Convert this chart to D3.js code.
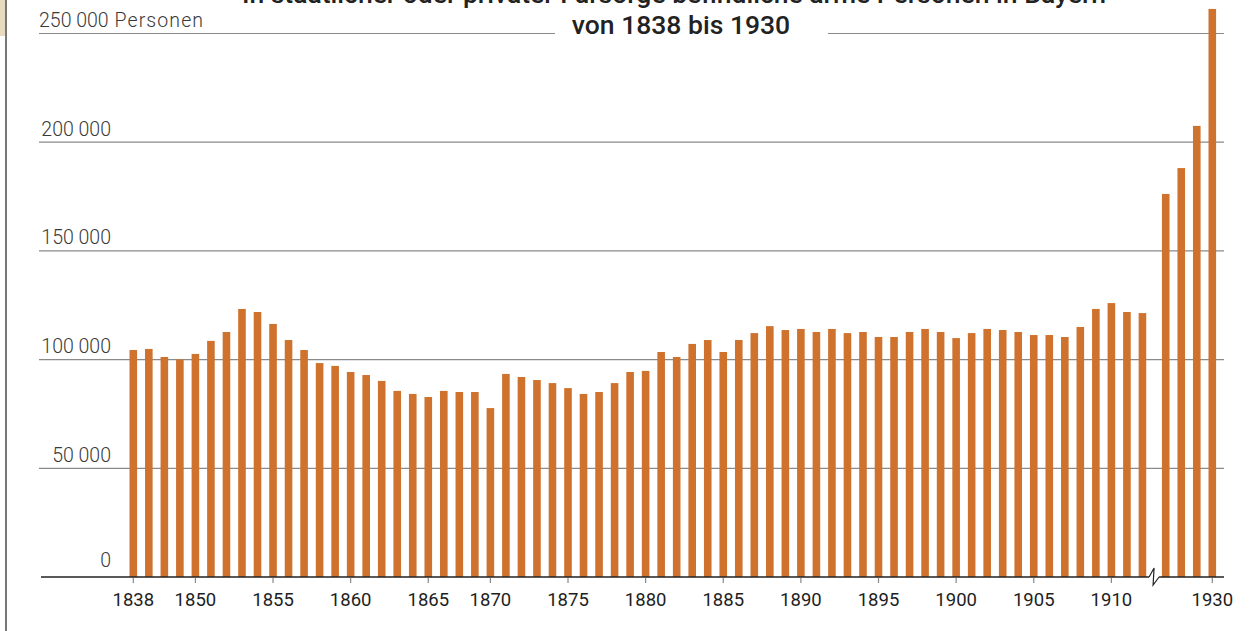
<!DOCTYPE html>
<html>
<head>
<meta charset="utf-8">
<script src="https://d3js.org/d3.v7.min.js"></script>
<style>
    body { margin: 0; background: #fff; }
    svg { display: block; }
    .ylab { font-family: Roboto, 'Liberation Sans', sans-serif; font-weight: 300; font-size: 19.5px; fill: #3a3a3a; }
    .xlab { font-family: Roboto, 'Liberation Sans', sans-serif; font-weight: 400; font-size: 18.5px; fill: #1e1e1e; }
    .title { font-family: Roboto, 'Liberation Sans', sans-serif; font-weight: 500; font-size: 26.5px; fill: #222; }
</style>
</head>
<body>
<div id="chart"></div>
<script>

// years shown as bars (the three after 1838 are not labelled in the source)
var years = ["1838", "1841", "1844", "1847", "1850",
    "1851", "1852", "1853", "1854", "1855", "1856", "1857", "1858", "1859", "1860",
    "1861", "1862", "1863", "1864", "1865", "1866", "1867", "1868",
    "1870", "1871", "1872", "1873", "1874", "1875", "1876", "1877", "1878", "1879", "1880",
    "1881", "1882", "1883", "1884", "1885", "1886", "1887", "1888", "1889", "1890",
    "1891", "1892", "1893", "1894", "1895", "1896", "1897", "1898", "1899", "1900",
    "1901", "1902", "1903", "1904", "1905", "1906", "1907", "1908", "1909", "1910",
    "1911", "1912",
    "1927", "1928", "1929", "1930"];

// persons (thousands)
var persons = [104.4, 104.9, 101.2, 100.1, 102.6,
    108.6, 112.7, 123.3, 121.9, 116.4, 109.0, 104.4, 98.4, 97.1, 94.3,
    92.9, 90.2, 85.6, 84.2, 82.8, 85.6, 85.1, 85.1,
    77.7, 93.4, 92.0, 90.6, 89.2, 86.9, 84.2, 85.1, 89.2, 94.3, 94.8,
    103.5, 101.2, 107.2, 109.0, 103.5, 109.0, 112.2, 115.4, 113.6, 114.1,
    112.7, 114.1, 112.2, 112.7, 110.4, 110.4, 112.7, 114.1, 112.7, 109.9,
    112.2, 114.1, 113.6, 112.7, 111.3, 111.3, 110.4, 115.0, 123.3, 126.0,
    121.9, 121.4,
    176.2, 188.1, 207.5, 261.3];

// axis break comes after this year
var breakAfter = "1912";

var xTickLabels = ["1838", "1850", "1855", "1860", "1865", "1870", "1875", "1880",
    "1885", "1890", "1895", "1900", "1905", "1910", "1930"];
var yTicks = [0, 50000, 100000, 150000, 200000, 250000];

var titleLines = ["In staatlicher oder privater Fürsorge befindliche arme Personen in Bayern",
    "von 1838 bis 1930"];

var width = 1250, height = 631;

var svg = d3.select("#chart")
    .append("svg")
    .attr("width", width)
    .attr("height", height);

// frame on the left
svg.append("rect").attr("x", 0).attr("y", 0).attr("width", 5).attr("height", 36).attr("fill", "#e7dbbd");
svg.append("line").attr("x1", 6).attr("x2", 6).attr("y1", 0).attr("y2", height)
    .attr("stroke", "#777").attr("stroke-width", 2);

var breakIdx = years.indexOf(breakAfter) + 1;
var slot = function (i) { return i < breakIdx ? i : i + 0.5; };

var x = d3.scaleLinear()
    .domain([0, slot(years.length - 1)])
    .range([133.3, 1212.3]);

var y = d3.scaleLinear()
    .domain([0, 250000])
    .range([577, 33.5]);

var barW = 7.6;

// gridlines
svg.append("g")
    .selectAll("line")
    .data(yTicks.slice(1))
    .enter()
    .append("line")
    .attr("x1", 39).attr("x2", 1224)
    .attr("y1", function (d) { return y(d); })
    .attr("y2", function (d) { return y(d); })
    .attr("stroke", "#8a8a8a")
    .attr("stroke-width", 1.2);

// y labels
var yl = svg.append("g")
    .selectAll("text")
    .data(yTicks)
    .enter()
    .append("text")
    .attr("class", "ylab")
    .attr("x", function (d) { return d === 250000 ? 39 : 111; })
    .attr("y", function (d) { return y(d) - (d === 0 ? 10 : 6.5); })
    .attr("text-anchor", function (d) { return d === 250000 ? "start" : "end"; })
    .text(function (d) { return d3.format(",")(d).replace(/,/g, " "); });

yl.filter(function (d) { return d === 250000; })
    .append("tspan")
    .attr("letter-spacing", "1.1px")
    .text(" Personen");

// title, with white box that cuts the top gridline
svg.append("rect").attr("x", 555).attr("y", 12).attr("width", 273).attr("height", 30).attr("fill", "#fff");
svg.append("g")
    .selectAll("text")
    .data(titleLines)
    .enter()
    .append("text")
    .attr("class", "title")
    .attr("x", function (d, i) { return i === 0 ? 674 : 681; })
    .attr("y", function (d, i) { return 3 + i * 30.5; })
    .attr("text-anchor", "middle")
    .text(function (d) { return d; });

// bars
svg.append("g")
    .selectAll("rect")
    .data(persons)
    .enter()
    .append("rect")
    .attr("x", function (d, i) { return x(slot(i)) - barW / 2; })
    .attr("y", function (d) { return y(d * 1000); })
    .attr("width", barW)
    .attr("height", function (d) { return y(0) - y(d * 1000); })
    .attr("fill", "#cf722e");

// baseline with break
svg.append("line")
    .attr("x1", 41).attr("x2", 1224)
    .attr("y1", y(0)).attr("y2", y(0))
    .attr("stroke", "#222").attr("stroke-width", 1.5);

var bx = (x(slot(breakIdx - 1)) + x(slot(breakIdx))) / 2;
svg.append("rect").attr("x", bx - 5).attr("y", y(0) - 2).attr("width", 10).attr("height", 4).attr("fill", "#fff");
svg.append("path")
    .attr("d", "M" + (bx - 5) + "," + y(0) + " L" + (bx) + "," + (y(0) - 9) +
        " L" + (bx - 1) + "," + (y(0) + 8) + " L" + (bx + 5) + "," + y(0))
    .attr("fill", "none")
    .attr("stroke", "#222")
    .attr("stroke-width", 1.2);

// x ticks and labels
var xt = svg.append("g")
    .selectAll("g")
    .data(xTickLabels)
    .enter()
    .append("g")
    .attr("transform", function (d) { return "translate(" + x(slot(years.indexOf(d))) + ",0)"; });

xt.append("line")
    .attr("y1", y(0) + 1).attr("y2", y(0) + 6)
    .attr("stroke", "#888").attr("stroke-width", 1.2);

xt.append("text")
    .attr("class", "xlab")
    .attr("y", 606)
    .attr("text-anchor", "middle")
    .text(function (d) { return d; });

</script>
</body>
</html>
